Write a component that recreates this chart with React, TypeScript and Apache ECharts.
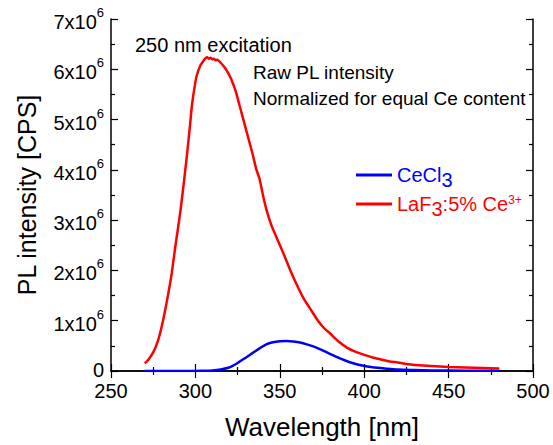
import React, { useEffect, useRef } from "react";
import * as echarts from "echarts";

// Wavelength (nm) and PL intensity (units of 10^6 CPS)
const wlRed = [270, 272, 275, 278, 281, 284, 286, 288, 291, 293, 295, 297, 298, 300, 301, 303, 305, 306, 307, 308, 309, 310, 311, 312, 313, 315, 317, 319, 321, 324, 326, 328, 330, 332, 334, 336, 338, 340, 342, 345, 348, 352, 356, 360, 364, 368, 372, 376, 380, 385, 390, 395, 400, 405, 410, 415, 420, 425, 430, 440, 450, 460, 470, 480];
const redVals = [0.15, 0.22, 0.37, 0.62, 1.03, 1.55, 1.95, 2.45, 3.15, 3.7, 4.3, 4.95, 5.3, 5.75, 5.9, 6.08, 6.18, 6.22, 6.24, 6.21, 6.23, 6.2, 6.21, 6.18, 6.19, 6.13, 6.05, 5.95, 5.82, 5.55, 5.3, 5.05, 4.8, 4.55, 4.3, 4.02, 3.82, 3.5, 3.22, 2.9, 2.66, 2.35, 2.02, 1.72, 1.45, 1.24, 1.03, 0.86, 0.74, 0.58, 0.46, 0.38, 0.32, 0.27, 0.23, 0.19, 0.17, 0.14, 0.12, 0.1, 0.08, 0.07, 0.06, 0.05];

const wlBlue = [270, 290, 305, 310, 315, 320, 322, 325, 330, 334, 338, 342, 346, 350, 354, 358, 362, 366, 371, 376, 381, 386, 391, 396, 401, 406, 412, 420, 430, 440, 460, 480];
const blueVals = [0, 0, 0.005, 0.01, 0.03, 0.07, 0.1, 0.16, 0.27, 0.36, 0.45, 0.53, 0.57, 0.59, 0.595, 0.585, 0.565, 0.53, 0.475, 0.4, 0.32, 0.245, 0.18, 0.13, 0.095, 0.068, 0.05, 0.03, 0.02, 0.012, 0.006, 0.003];

const seriesNames = ["CeCl3", "LaF3:5% Ce3+"];
const xTickMin = 250;
const xTickMax = 500;
const yTickMax = 7;

const FONT = "'Liberation Sans', Arial, Helvetica, sans-serif";

export default function App() {
  const ref = useRef<HTMLDivElement>(null);
  useEffect(() => {
    if (!ref.current) return;
    const chart = echarts.init(ref.current, null, { renderer: "svg" });
    const axisLine = { show: true, lineStyle: { color: "#000", width: 1.5 } };
    const tick = { show: true, inside: true, length: 7, lineStyle: { color: "#000", width: 1.2 } };
    const minor = { show: true, splitNumber: 2, length: 4, lineStyle: { color: "#000", width: 1.2 } };
    const xBase = { type: "value", min: xTickMin, max: xTickMax, interval: 50, axisLine, axisTick: tick, minorTick: minor, splitLine: { show: false } };
    const yBase = { type: "value", min: 0, max: yTickMax, interval: 1, axisLine, axisTick: tick, minorTick: minor, splitLine: { show: false } };
    chart.setOption({
      animation: false,
      backgroundColor: "#fff",
      textStyle: { fontFamily: FONT },
      grid: { left: 111, right: 20, top: 19, bottom: 73 },
      xAxis: [
        {
          ...xBase,
          position: "bottom",
          name: "Wavelength [nm]",
          nameLocation: "middle",
          nameGap: 43,
          nameTextStyle: { fontSize: 26, color: "#000", fontFamily: FONT },
          axisLabel: { color: "#000", fontSize: 20, margin: 12, lineHeight: 16, fontFamily: FONT },
        },
        { ...xBase, position: "top", axisLabel: { show: false } },
      ],
      yAxis: [
        {
          ...yBase,
          position: "left",
          name: "PL intensity [CPS]",
          nameLocation: "middle",
          nameGap: 72,
          nameTextStyle: { fontSize: 25, color: "#000", fontFamily: FONT },
          axisLabel: {
            margin: 7,
            formatter: (v: number) => (v === 0 ? "{z|0}" : `{a|${v}x10}{b|6}`),
            rich: {
              z: { fontSize: 20, color: "#000", fontFamily: FONT, lineHeight: 12, verticalAlign: "middle", padding: [0, 0, 2, 0] },
              a: { fontSize: 20, color: "#000", fontFamily: FONT, lineHeight: 26, verticalAlign: "bottom" },
              b: { fontSize: 13, color: "#000", fontFamily: FONT, lineHeight: 14, verticalAlign: "top" },
            },
          },
        },
        { ...yBase, position: "right", axisLabel: { show: false } },
      ],
      legend: {
        orient: "vertical",
        left: 356,
        top: 165,
        padding: 0,
        itemGap: 4,
        itemWidth: 36,
        itemHeight: 3,
        icon: "rect",
        data: seriesNames,
        formatter: (name: string) =>
          name === seriesNames[0] ? "{nb|CeCl}{sb|3}" : "{nr|LaF}{sr|3}{nr|:5% Ce}{pr|3+}",
        textStyle: {
          rich: {
            nb: { fontSize: 20, color: "#0000ff", fontFamily: FONT, lineHeight: 30, verticalAlign: "middle" },
            sb: { fontSize: 20, color: "#0000ff", fontFamily: FONT, lineHeight: 16, verticalAlign: "bottom" },
            nr: { fontSize: 20, color: "#ff0000", fontFamily: FONT, lineHeight: 30, verticalAlign: "middle" },
            sr: { fontSize: 20, color: "#ff0000", fontFamily: FONT, lineHeight: 16, verticalAlign: "bottom" },
            pr: { fontSize: 12, color: "#ff0000", fontFamily: FONT, lineHeight: 14, verticalAlign: "middle", padding: [0, 0, 8, 0] },
          },
        },
      },
      graphic: [
        { type: "text", left: 135, top: 35, style: { text: "250 nm excitation", fontSize: 20, fill: "#000", fontFamily: FONT } },
        { type: "text", left: 253, top: 63, style: { text: "Raw PL intensity", fontSize: 19, fill: "#000", fontFamily: FONT } },
        { type: "text", left: 253, top: 89, style: { text: "Normalized for equal Ce content", fontSize: 19, fill: "#000", fontFamily: FONT } },
      ],
      series: [
        {
          name: seriesNames[0],
          type: "line",
          showSymbol: false,
          symbol: "none",
          smooth: 0.3,
          color: "#0000ff",
          lineStyle: { color: "#0000ff", width: 2.5 },
          data: wlBlue.map((w, i) => [w, blueVals[i]]),
        },
        {
          name: seriesNames[1],
          type: "line",
          showSymbol: false,
          symbol: "none",
          smooth: 0.2,
          color: "#ff0000",
          lineStyle: { color: "#ff0000", width: 2.5 },
          data: wlRed.map((w, i) => [w, redVals[i]]),
        },
      ],
    });
    return () => chart.dispose();
  }, []);
  return <div ref={ref} style={{ position: "fixed", left: 0, top: 0, width: 553, height: 445 }} />;
}
